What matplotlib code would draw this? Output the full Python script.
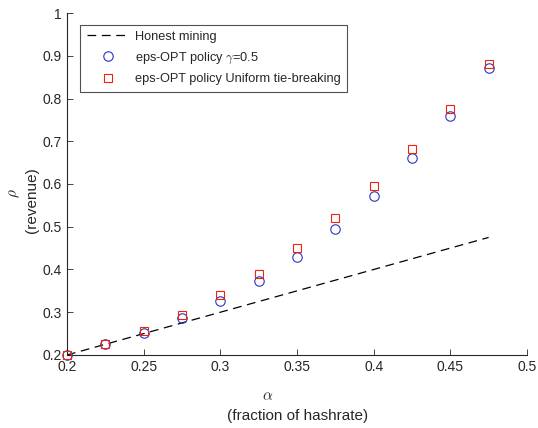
import matplotlib
matplotlib.use("Agg")
import matplotlib.pyplot as plt

plt.rcParams['font.family'] = ['Liberation Sans', 'DejaVu Sans']
plt.rcParams['mathtext.fontset'] = 'cm'

alpha = [0.2, 0.225, 0.25, 0.275, 0.3, 0.325, 0.35, 0.375, 0.4, 0.425, 0.45, 0.475]
honest = [0.2, 0.225, 0.25, 0.275, 0.3, 0.325, 0.35, 0.375, 0.4, 0.425, 0.45, 0.475]
eps_opt_gamma = [0.2, 0.225, 0.252, 0.287, 0.327, 0.373, 0.43, 0.495, 0.571, 0.66, 0.759, 0.872]
eps_opt_uniform = [0.2, 0.226, 0.256, 0.293, 0.34, 0.39, 0.45, 0.52, 0.595, 0.682, 0.776, 0.88]

xticks = [0.2, 0.25, 0.3, 0.35, 0.4, 0.45, 0.5]
yticks = [0.2, 0.3, 0.4, 0.5, 0.6, 0.7, 0.8, 0.9, 1.0]

dark = '#262626'

fig = plt.figure(figsize=(5.38, 4.28), dpi=100)
ax = fig.add_axes([0.1245, 0.1706, 0.855, 0.799])

ax.plot(alpha, honest, linestyle=(0, (7, 4.5)), color='black', linewidth=0.9,
        label='Honest mining')
ax.plot(alpha, eps_opt_gamma, linestyle='none', marker='o', markersize=6.8,
        markerfacecolor='none', markeredgecolor='#2a35c0', markeredgewidth=0.8,
        clip_on=False, zorder=3, label=r'eps-OPT policy $\gamma$=0.5')
ax.plot(alpha, eps_opt_uniform, linestyle='none', marker='s', markersize=6.0,
        markerfacecolor='none', markeredgecolor='#ee2211', markeredgewidth=0.8,
        clip_on=False, zorder=4, label='eps-OPT policy Uniform tie-breaking')

ax.set_xlim(0.2, 0.5)
ax.set_ylim(0.2, 1.0)
ax.set_xticks(xticks)
ax.set_yticks(yticks)
ax.set_xticklabels([f'{v:g}' for v in xticks])
ax.set_yticklabels([f'{v:g}' for v in yticks])
ax.tick_params(direction='in', length=4, width=0.6, colors=dark, labelsize=10,
               top=False, right=False)
for side in ('top', 'right'):
    ax.spines[side].set_visible(False)
for side in ('left', 'bottom'):
    ax.spines[side].set_color(dark)
    ax.spines[side].set_linewidth(0.8)

# axis labels: Greek symbol on the first line, description below
fig.text(0.497, 0.074, r'$\alpha$', ha='center', va='center', fontsize=11, color=dark)
fig.text(0.553, 0.028, '(fraction of hashrate)', ha='center', va='center',
         fontsize=11, color=dark)
fig.text(0.027, 0.549, r'$\rho$', ha='center', va='center', fontsize=11,
         color=dark, rotation=90)
fig.text(0.059, 0.533, '(revenue)', ha='center', va='center', fontsize=11,
         color=dark, rotation=90)

leg = ax.legend(loc='upper left', bbox_to_anchor=(0.015, 0.985), fontsize=9.2,
                frameon=True, fancybox=False, handlelength=3.3,
                borderpad=0.5, labelspacing=0.6, handletextpad=0.5)
leg.get_frame().set_edgecolor(dark)
leg.get_frame().set_linewidth(0.8)
for t in leg.get_texts():
    t.set_color(dark)

fig.savefig('out.png', dpi=100)
